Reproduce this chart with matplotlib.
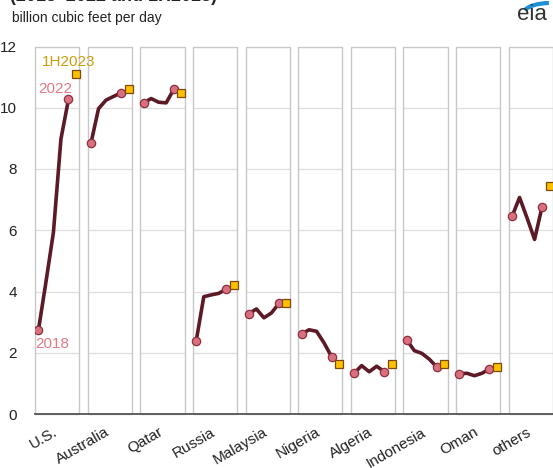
import numpy as np
import matplotlib.pyplot as plt
from matplotlib.patches import Rectangle, Arc

plt.rcParams['font.family'] = ['Liberation Sans', 'DejaVu Sans']

countries = ["U.S.", "Australia", "Qatar", "Russia", "Malaysia",
             "Nigeria", "Algeria", "Indonesia", "Oman", "others"]
# annual values 2018-2022
annual = [
    [2.73, 4.30, 5.93, 8.98, 10.27],
    [8.85, 9.97, 10.25, 10.37, 10.49],
    [10.16, 10.30, 10.18, 10.16, 10.60],
    [2.40, 3.83, 3.89, 3.94, 4.08],
    [3.28, 3.43, 3.14, 3.30, 3.61],
    [2.61, 2.75, 2.70, 2.32, 1.87],
    [1.33, 1.58, 1.38, 1.56, 1.38],
    [2.42, 2.07, 1.98, 1.79, 1.53],
    [1.31, 1.33, 1.25, 1.33, 1.47],
    [6.45, 7.07, 6.40, 5.70, 6.77],
]
h1_2023 = [11.11, 10.62, 10.48, 4.21, 3.64, 1.63, 1.62, 1.62, 1.53, 7.43]
yticks = [0, 2, 4, 6, 8, 10, 12]

line_c = "#5b1a26"
dot_face = "#d9707f"
dot_edge = "#8e2f3e"
sq_face = "#ffc000"
sq_edge = "#7b4a12"

fig = plt.figure(figsize=(5.53, 4.68), dpi=100)
ax = fig.add_axes([35/553, 54/468, 518/553, 367.5/468])

period = 7
for i, name in enumerate(countries):
    x0 = i * period
    xs = np.arange(5) + x0
    # panel box and gridlines
    ax.add_patch(Rectangle((x0 - 0.45, 0), 5.9, 12, fill=False, ec="#c8c8c8",
                           lw=1.0, clip_on=False, zorder=1))
    ax.hlines(yticks[1:-1], x0 - 0.45, x0 + 5.45, color="#dedede", lw=0.9, zorder=0)
    ax.plot(xs, annual[i], color=line_c, lw=2.6, solid_joinstyle="round",
            solid_capstyle="round", zorder=3)
    ax.plot([xs[0], xs[-1]], [annual[i][0], annual[i][-1]], "o", ms=6,
            mfc=dot_face, mec=dot_edge, mew=0.9, zorder=4)
    ax.plot(x0 + 5, h1_2023[i], "s", ms=5.5, mfc=sq_face, mec=sq_edge,
            mew=0.9, zorder=4)

ax.axhline(0, color="#555555", lw=1.3, zorder=5, clip_on=False)

ax.text(0.5, 11.5, "1H2023", color="#c9a010", fontsize=11, va="center", ha="left")
ax.text(-0.05, 10.62, "2022", color="#e07a88", fontsize=11, va="center", ha="left")
ax.text(-0.45, 2.3, "2018", color="#e07a88", fontsize=11, va="center", ha="left")

ax.set_xlim(-0.45, 68.45)
ax.set_ylim(0, 12)
ax.set_yticks(yticks)
ax.set_xticks([i * period + 1.9 for i in range(len(countries))])
ax.set_xticklabels(countries, rotation=30, ha="right", rotation_mode="anchor")
ax.tick_params(axis="y", length=0, pad=13, labelsize=11, labelcolor="#222222")
ax.tick_params(axis="x", length=0, pad=8, labelsize=11, labelcolor="#222222")
for s in ax.spines.values():
    s.set_visible(False)

fig.text(10/553, 1 - 1/468, "(2018\u20132022 and 1H2023)", fontsize=13,
         fontweight="bold", color="#222222", va="baseline", ha="left")
fig.text(12/553, 1 - 18/468, "billion cubic feet per day", fontsize=10,
         color="#222222", va="center", ha="left")

# eia logo
fig.text(517/553, 1 - 14/468, "eia", fontsize=16, color="#333333",
         va="center", ha="left")
fig.patches.append(Arc((550/553, 1 - 14/468), 54/553, 22/468, theta1=95, theta2=170,
                       transform=fig.transFigure, color="#1f8fd6", lw=3))

fig.savefig("out.png", dpi=100)
